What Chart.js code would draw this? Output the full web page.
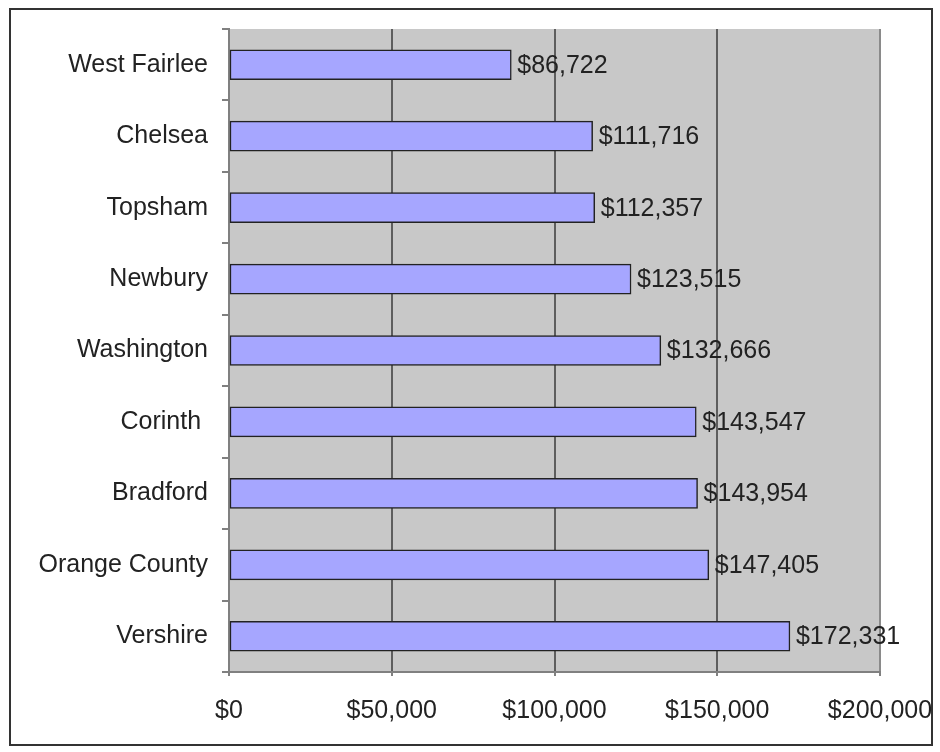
<!DOCTYPE html>
<html>
<head>
<meta charset="utf-8">
<script src="https://cdn.jsdelivr.net/npm/chart.js@4"></script>
<style>
  html, body { margin: 0; padding: 0; background: #fff; }
  #wrap { width: 940px; height: 752px; }
</style>
</head>
<body>
<div id="wrap"><canvas id="townChart" width="940" height="752"></canvas></div>
<script>
// median values by town
const towns = ['West Fairlee', 'Chelsea', 'Topsham', 'Newbury', 'Washington', 'Corinth ', 'Bradford', 'Orange County', 'Vershire'];
const values = [86722, 111716, 112357, 123515, 132666, 143547, 143954, 147405, 172331];
const xTicks = [0, 50000, 100000, 150000, 200000];

const fmt = v => '$' + v.toLocaleString('en-US');
const FONT = 'Liberation Sans, Arial, sans-serif';
const SIZE = 25;

// frame + gray plot background
const backdrop = {
    id: 'backdrop',
    beforeDraw(chart) {
        const c = chart.ctx;
        const a = chart.chartArea;
        c.save();
        c.fillStyle = '#fff';
        c.fillRect(0, 0, chart.width, chart.height);
        c.strokeStyle = '#333';
        c.lineWidth = 2;
        c.strokeRect(10, 9, 922, 736);
        c.fillStyle = '#c8c8c8';
        c.fillRect(a.left, a.top, a.right - a.left, a.bottom - a.top);
        c.restore();
    }
};

// value text right of each bar
const barLabels = {
    id: 'barLabels',
    afterDatasetsDraw(chart) {
        const c = chart.ctx;
        const meta = chart.getDatasetMeta(0);
        c.save();
        c.font = SIZE + 'px ' + FONT;
        c.fillStyle = '#222';
        c.textAlign = 'left';
        c.textBaseline = 'middle';
        meta.data.forEach((bar, i) => {
            c.fillText(fmt(values[i]), bar.x + 6, bar.y + 1);
        });
        c.restore();
    }
};

const ctx = document.getElementById('townChart').getContext('2d');
const chart = new Chart(ctx, {
    type: 'bar',
    data: {
        labels: towns,
        datasets: [{
            data: values,
            backgroundColor: '#a6a6ff',
            borderColor: '#222',
            borderWidth: 1.5,
            borderSkipped: false,
            barThickness: 30
        }]
    },
    options: {
        indexAxis: 'y',
        responsive: false,
        animation: false,
        layout: { padding: { left: 0, top: 29, right: 60, bottom: 0 } },
        plugins: {
            legend: { display: false },
            tooltip: { enabled: false }
        },
        scales: {
            x: {
                min: 0,
                max: 200000,
                afterBuildTicks: axis => { axis.ticks = xTicks.map(v => ({ value: v })); },
                afterFit: axis => {
                    axis.height = 80;
                    axis.paddingLeft = 0;
                    axis.paddingRight = 0;
                },
                border: { color: '#808080', width: 2 },
                grid: {
                    color: c => c.index === 0 ? 'rgba(0,0,0,0)' : (c.index === 4 ? '#8a8a8a' : '#5e5e5e'),
                    lineWidth: 2,
                    tickLength: 4,
                    tickColor: '#808080'
                },
                ticks: {
                    callback: v => fmt(v),
                    color: '#222',
                    font: { family: FONT, size: SIZE },
                    padding: 20,
                    maxRotation: 0,
                    autoSkip: false
                }
            },
            y: {
                afterFit: axis => { axis.width = 229; },
                border: { color: '#808080', width: 2 },
                grid: {
                    offset: true,
                    drawOnChartArea: false,
                    tickLength: 7,
                    color: '#808080',
                    lineWidth: 2
                },
                ticks: {
                    color: '#222',
                    font: { family: FONT, size: SIZE },
                    padding: 14
                }
            }
        }
    },
    plugins: [backdrop, barLabels]
});
</script>
</body>
</html>
